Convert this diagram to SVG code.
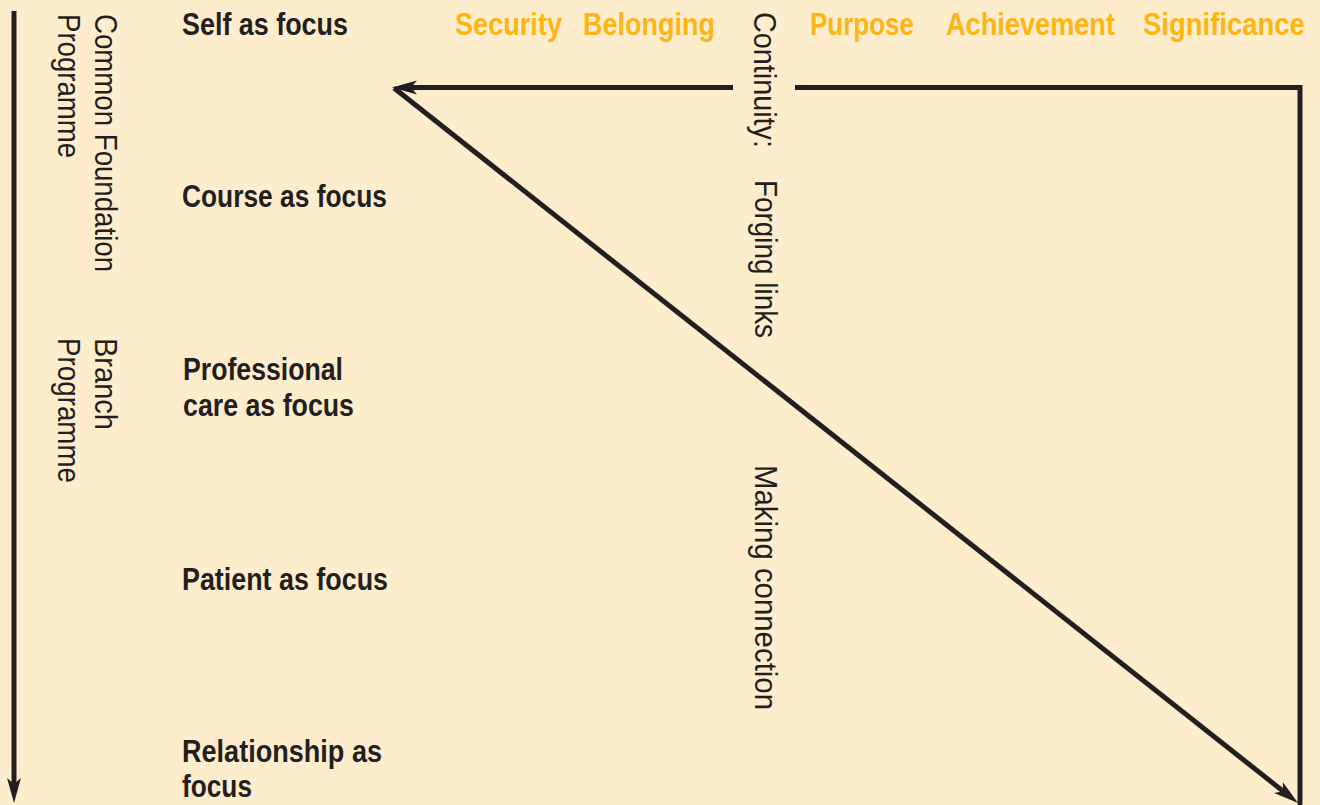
<svg xmlns="http://www.w3.org/2000/svg" width="1320" height="805" viewBox="0 0 1320 805">
  <style>
    .bg { fill: #FEEDCD; }
    .lbl { font-family: "Liberation Sans Narrow", "Liberation Sans", Arial, sans-serif; font-weight: bold; font-size: 31px; fill: #231F20; }
    .need { font-family: "Liberation Sans Narrow", "Liberation Sans", Arial, sans-serif; font-weight: bold; font-size: 31px; fill: #FDB515; }
    .vert { font-family: "Liberation Sans Narrow", "Liberation Sans", Arial, sans-serif; font-weight: normal; font-size: 32px; fill: #231F20; }
    .ln { fill: none; stroke: #231F20; stroke-width: 5; stroke-linejoin: miter; }
  </style>
  <defs>
    <marker id="ah" viewBox="-36 -8 38 16" refX="-10" refY="0" markerWidth="38" markerHeight="16" markerUnits="userSpaceOnUse" orient="auto">
      <path d="M0,0 L-25,-7 L-19,0 L-25,7 Z" fill="#231F20"/>
    </marker>
  </defs>
  <rect class="bg" x="0" y="0" width="1320" height="805"/>

  <g id="programme-axis">
    <text class="vert" transform="translate(95,14) rotate(90)" textLength="258" lengthAdjust="spacingAndGlyphs">Common Foundation</text>
    <text class="vert" transform="translate(58,14) rotate(90)" textLength="144" lengthAdjust="spacingAndGlyphs">Programme</text>
    <text class="vert" transform="translate(95,338) rotate(90)" textLength="92" lengthAdjust="spacingAndGlyphs">Branch</text>
    <text class="vert" transform="translate(58,338) rotate(90)" textLength="145" lengthAdjust="spacingAndGlyphs">Programme</text>
  </g>

  <g id="self-as-focus"><text class="lbl" x="182" y="35" textLength="166" lengthAdjust="spacingAndGlyphs">Self as focus</text></g>
  <g id="course-as-focus"><text class="lbl" x="182" y="207" textLength="205" lengthAdjust="spacingAndGlyphs">Course as focus</text></g>
  <g id="professional-care-as-focus">
    <text class="lbl" x="183" y="380" textLength="160" lengthAdjust="spacingAndGlyphs">Professional</text>
    <text class="lbl" x="183" y="416" textLength="171" lengthAdjust="spacingAndGlyphs">care as focus</text>
  </g>
  <g id="patient-as-focus"><text class="lbl" x="182" y="590" textLength="206" lengthAdjust="spacingAndGlyphs">Patient as focus</text></g>
  <g id="relationship-as-focus">
    <text class="lbl" x="182" y="762" textLength="200" lengthAdjust="spacingAndGlyphs">Relationship as</text>
    <text class="lbl" x="182" y="797" textLength="70" lengthAdjust="spacingAndGlyphs">focus</text>
  </g>

  <g id="needs">
    <text class="need" x="455" y="35" textLength="107" lengthAdjust="spacingAndGlyphs">Security</text>
    <text class="need" x="583" y="35" textLength="132" lengthAdjust="spacingAndGlyphs">Belonging</text>
    <text class="need" x="810" y="35" textLength="104" lengthAdjust="spacingAndGlyphs">Purpose</text>
    <text class="need" x="946" y="35" textLength="169" lengthAdjust="spacingAndGlyphs">Achievement</text>
    <text class="need" transform="translate(1143,35) scale(1,1.127)" x="0" y="0" style="font-size:27.5px">Significance</text>
  </g>

  <g id="continuity">
    <text class="vert" transform="translate(754,12) rotate(90)" textLength="136" lengthAdjust="spacingAndGlyphs">Continuity:</text>
    <text class="vert" transform="translate(755,180) rotate(90)" textLength="158" lengthAdjust="spacingAndGlyphs">Forging links</text>
    <text class="vert" transform="translate(755,465) rotate(90)" textLength="245" lengthAdjust="spacingAndGlyphs">Making connection</text>
  </g>

  <g id="connectors">
    <line class="ln" x1="14" y1="11" x2="14" y2="793" marker-end="url(#ah)"/>
    <line class="ln" x1="733" y1="87.5" x2="402" y2="87.5" marker-end="url(#ah)"/>
    <line class="ln" x1="394" y1="88" x2="1290.2" y2="796.8" marker-end="url(#ah)"/>
    <polyline class="ln" points="795,87.5 1300,87.5 1300,810"/>
  </g>
</svg>
